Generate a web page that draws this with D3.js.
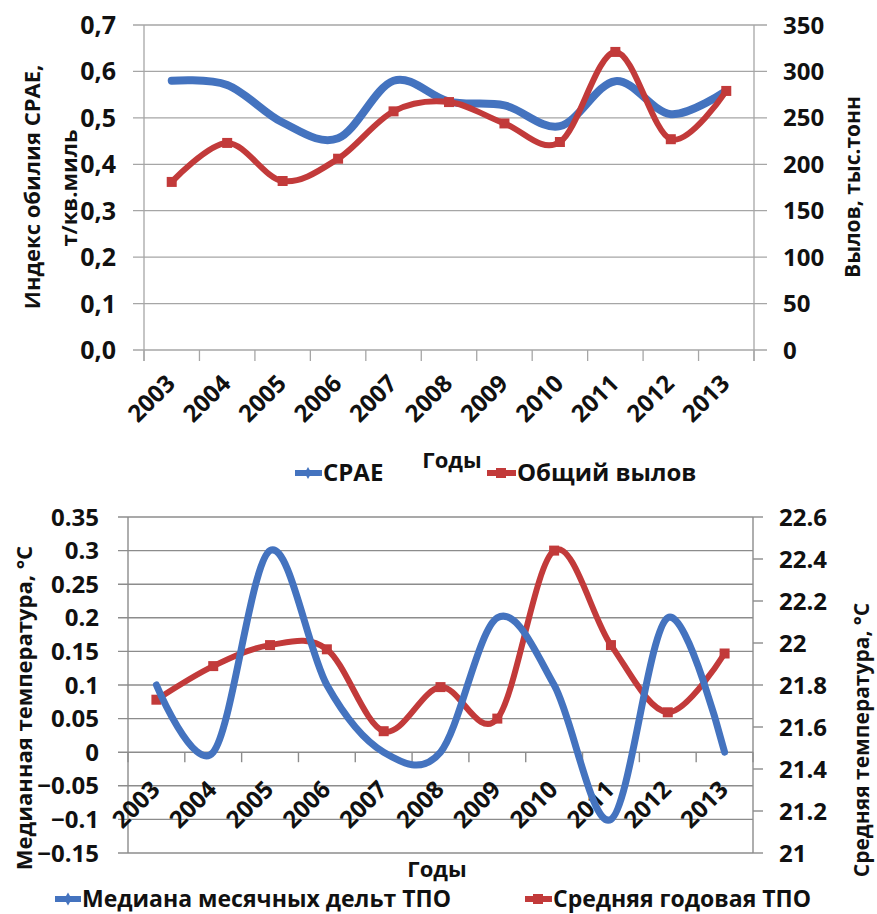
<!DOCTYPE html>
<html><head><meta charset="utf-8">
<script src="https://cdn.jsdelivr.net/npm/d3@7"></script>
<style>
body{margin:0;background:#fff;}
svg text{font-family:"Open Sans","DejaVu Sans",sans-serif;fill:#111;}
</style></head>
<body>
<svg id="c" width="877" height="914"></svg>
<script>
// ---- data ----
const years = ['2003','2004','2005','2006','2007','2008','2009','2010','2011','2012','2013'];
// top chart
const cpae = [0.58,0.571,0.49,0.456,0.58,0.535,0.527,0.482,0.579,0.508,0.558];
const totalCatch = [181,223,182,206,257,267,244,224,321,227,279];
const topLeftTicks = [0,0.1,0.2,0.3,0.4,0.5,0.6,0.7];
const topRightTicks = [0,50,100,150,200,250,300,350];
// bottom chart
const medianDelta = [0.1,0,0.3,0.1,0,0,0.2,0.1,-0.1,0.2,0];
const meanTemp = [21.73,21.89,21.99,21.97,21.58,21.79,21.64,22.44,21.99,21.67,21.95];
const botLeftTicks = [-0.15,-0.1,-0.05,0,0.05,0.1,0.15,0.2,0.25,0.3,0.35];
const botRightTicks = [21,21.2,21.4,21.6,21.8,22,22.2,22.4,22.6];

const BLUE = '#4473bf', RED = '#c23a3a', GRID = '#a6a6a6';
const svg = d3.select('#c');
const curve = d3.curveCardinal.tension(0);

function square(g, x, y, s, color){
  g.append('rect').attr('x',x-s/2).attr('y',y-s/2).attr('width',s).attr('height',s).attr('fill',color);
}

// ================= TOP CHART =================
(function(){
  const g = svg.append('g');
  const x = d3.scaleBand().domain(years).range([144,754]).padding(0);
  const cx = d => x(d)+x.bandwidth()/2;
  const yL = d3.scaleLinear().domain([0,0.7]).range([350,25]);
  const yR = d3.scaleLinear().domain([0,350]).range([350,25]);

  g.selectAll('.gl').data(topLeftTicks).join('line')
    .attr('x1',133).attr('x2',767).attr('y1',d=>yL(d)).attr('y2',d=>yL(d))
    .attr('stroke',GRID).attr('stroke-width',1.3);
  [144,754].forEach(xx=>g.append('line').attr('x1',xx).attr('x2',xx).attr('y1',25).attr('y2',361).attr('stroke',GRID).attr('stroke-width',1.3));
  const bounds = years.map(d=>x(d)).concat([754]);
  g.selectAll('.ct').data(bounds).join('line')
    .attr('x1',d=>d).attr('x2',d=>d).attr('y1',350).attr('y2',361)
    .attr('stroke',GRID).attr('stroke-width',1.3);

  g.selectAll('.lt').data(topLeftTicks).join('text')
    .attr('x',116).attr('y',d=>yL(d)).attr('dy','0.36em').attr('text-anchor','end')
    .attr('font-size',25).attr('font-weight',700)
    .text(d=>d3.format('.1f')(d).replace('.',','));
  g.selectAll('.rt').data(topRightTicks).join('text')
    .attr('x',783).attr('y',d=>yR(d)).attr('dy','0.36em').attr('text-anchor','start')
    .attr('font-size',24).attr('font-weight',700)
    .text(d=>d);
  g.selectAll('.xl').data(years).join('text')
    .attr('transform',d=>`translate(${cx(d)+5},${385}) rotate(-45)`)
    .attr('text-anchor','end').attr('font-size',24).attr('font-weight',700)
    .text(d=>d);

  g.append('text').attr('transform','translate(40,187) rotate(-90)').attr('text-anchor','middle')
    .attr('font-size',22).attr('font-weight',700).text('Индекс обилия CPAE,');
  g.append('text').attr('transform','translate(77,188) rotate(-90)').attr('text-anchor','middle')
    .attr('font-size',22).attr('font-weight',700).text('т/кв.миль');
  g.append('text').attr('transform','translate(860,187) rotate(-90)').attr('text-anchor','middle')
    .attr('font-size',21).attr('font-weight',700).text('Вылов, тыс.тонн');

  const lineL = d3.line().x((d,i)=>cx(years[i])).y(d=>yL(d)).curve(curve);
  const lineR = d3.line().x((d,i)=>cx(years[i])).y(d=>yR(d)).curve(curve);
  g.append('path').attr('d',lineL(cpae)).attr('fill','none').attr('stroke',BLUE).attr('stroke-width',8).attr('stroke-linecap','round');
  g.append('path').attr('d',lineR(totalCatch)).attr('fill','none').attr('stroke',RED).attr('stroke-width',6).attr('stroke-linecap','round');
  totalCatch.forEach((v,i)=>square(g,cx(years[i]),yR(v),10,RED));

  g.append('text').attr('x',452).attr('y',468).attr('text-anchor','middle').attr('font-size',22).attr('font-weight',700).text('Годы');
  g.append('line').attr('x1',295).attr('x2',322).attr('y1',473).attr('y2',473).attr('stroke',BLUE).attr('stroke-width',6);
  g.append('path').attr('d',d3.symbol().type(d3.symbolDiamond).size(40)()).attr('transform','translate(308,473)').attr('fill',BLUE);
  g.append('text').attr('x',323).attr('y',481).attr('font-size',24).attr('font-weight',700).text('CPAE');
  g.append('line').attr('x1',487).attr('x2',516).attr('y1',473).attr('y2',473).attr('stroke',RED).attr('stroke-width',6);
  square(g,501,473,10,RED);
  g.append('text').attr('x',517).attr('y',481).attr('font-size',24).attr('font-weight',700).text('Общий вылов');
})();

// ================= BOTTOM CHART =================
(function(){
  const g = svg.append('g');
  const x = d3.scaleBand().domain(years).range([128,753]).padding(0);
  const cx = d => x(d)+x.bandwidth()/2;
  const yL = d3.scaleLinear().domain([-0.15,0.35]).range([853,517]);
  const yR = d3.scaleLinear().domain([21,22.6]).range([853,517]);
  const G2 = '#8c8c8c';

  g.selectAll('.gl').data(botLeftTicks).join('line')
    .attr('x1',118).attr('x2',753).attr('y1',d=>yL(d)).attr('y2',d=>yL(d))
    .attr('stroke',G2).attr('stroke-width',1.4);
  [128,753].forEach(xx=>g.append('line').attr('x1',xx).attr('x2',xx).attr('y1',517).attr('y2',853).attr('stroke',G2).attr('stroke-width',1.4));
  g.selectAll('.rtk').data(botRightTicks).join('line')
    .attr('x1',753).attr('x2',763).attr('y1',d=>yR(d)).attr('y2',d=>yR(d))
    .attr('stroke',G2).attr('stroke-width',1.4);
  const bounds = years.map(d=>x(d)).concat([753]);
  g.selectAll('.ct').data(bounds).join('line')
    .attr('x1',d=>d).attr('x2',d=>d).attr('y1',yL(0)).attr('y2',yL(0)+10)
    .attr('stroke',G2).attr('stroke-width',1.4);

  g.selectAll('.lt').data(botLeftTicks).join('text')
    .attr('x',99).attr('y',d=>yL(d)).attr('dy','0.36em').attr('text-anchor','end')
    .attr('font-size',24).attr('font-weight',700)
    .text(d=>d3.format('')(+d.toFixed(2)));
  g.selectAll('.rt').data(botRightTicks).join('text')
    .attr('x',779).attr('y',d=>yR(d)).attr('dy','0.36em').attr('text-anchor','start')
    .attr('font-size',24).attr('font-weight',700)
    .text(d=>d3.format('')(+d.toFixed(1)));
  g.selectAll('.xl').data(years).join('text')
    .attr('transform',d=>`translate(${cx(d)+5},${791}) rotate(-45)`)
    .attr('text-anchor','end').attr('font-size',24).attr('font-weight',700)
    .text(d=>d);

  g.append('text').attr('transform','translate(32,708) rotate(-90)').attr('text-anchor','middle')
    .attr('font-size',22).attr('font-weight',700).text('Медианная температура, °С');
  g.append('text').attr('transform','translate(869,740) rotate(-90)').attr('text-anchor','middle')
    .attr('font-size',21).attr('font-weight',700).text('Средняя температура, °С');

  const lineL = d3.line().x((d,i)=>cx(years[i])).y(d=>yL(d)).curve(curve);
  const lineR = d3.line().x((d,i)=>cx(years[i])).y(d=>yR(d)).curve(curve);
  g.append('path').attr('d',lineR(meanTemp)).attr('fill','none').attr('stroke',RED).attr('stroke-width',6).attr('stroke-linecap','round');
  meanTemp.forEach((v,i)=>square(g,cx(years[i]),yR(v),10,RED));
  g.append('path').attr('d',lineL(medianDelta)).attr('fill','none').attr('stroke',BLUE).attr('stroke-width',7).attr('stroke-linecap','round');

  g.append('text').attr('x',437).attr('y',877).attr('text-anchor','middle').attr('font-size',22).attr('font-weight',700).text('Годы');
  g.append('line').attr('x1',55).attr('x2',81).attr('y1',899).attr('y2',899).attr('stroke',BLUE).attr('stroke-width',6);
  g.append('path').attr('d',d3.symbol().type(d3.symbolDiamond).size(50)()).attr('transform','translate(68,899)').attr('fill',BLUE);
  g.append('text').attr('x',82).attr('y',907).attr('font-size',23).attr('font-weight',700).text('Медиана месячных дельт ТПО');
  g.append('line').attr('x1',525).attr('x2',552).attr('y1',899).attr('y2',899).attr('stroke',RED).attr('stroke-width',6);
  square(g,538,899,10,RED);
  g.append('text').attr('x',553).attr('y',907).attr('font-size',23).attr('font-weight',700).text('Средняя годовая ТПО');
})();
</script>
</body></html>
